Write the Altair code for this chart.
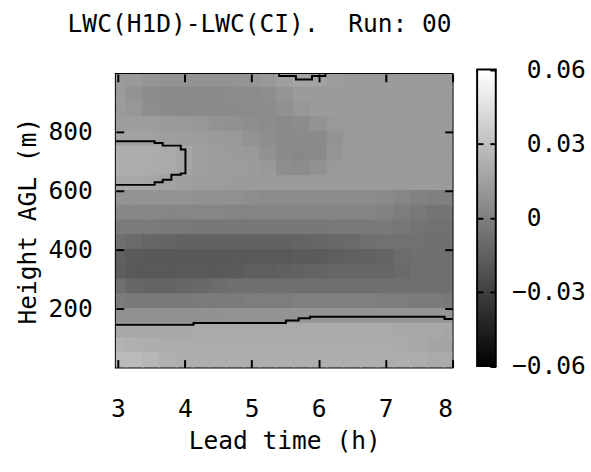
import altair as alt
import pandas as pd
import numpy as np

FONT = "DejaVu Sans Mono"

# Lead time (h) grid columns and height (m) grid rows (cell centres)
lead_hours = [3.0, 3.25, 3.5, 3.75, 4.0, 4.25, 4.5, 4.75, 5.0, 5.25, 5.5,
              5.75, 6.0, 6.25, 6.5, 6.75, 7.0, 7.25, 7.5, 7.75, 8.0]
heights = [975, 925, 875, 825, 775, 725, 675, 625, 575, 525,
           475, 425, 375, 325, 275, 225, 175, 125, 75, 25]

# LWC(H1D)-LWC(CI) in units of 0.001, one row per height (top to bottom)
lwc_diff_milli = [
    [13, 12, 10, 9, 9, 9, 9, 9, 10, 12, 15, 17, 16, 14, 13, 13, 13, 13, 13, 13, 13],
    [13, 9, 6, 5, 5, 5, 5, 6, 6, 7, 10, 13, 13, 13, 13, 13, 13, 13, 13, 13, 13],
    [13, 11, 7, 5, 5, 5, 5, 5, 6, 6, 8, 11, 13, 13, 13, 13, 13, 13, 13, 13, 13],
    [14, 14, 14, 13, 12, 11, 9, 8, 7, 6, 5, 6, 9, 12, 13, 13, 13, 13, 13, 13, 13],
    [16, 16, 16, 15, 14, 14, 13, 12, 9, 7, 5, 5, 5, 9, 12, 13, 13, 13, 13, 13, 13],
    [22, 22, 21, 20, 18, 15, 14, 13, 12, 8, 5, 4, 5, 10, 13, 13, 13, 13, 13, 13, 13],
    [22, 22, 21, 20, 18, 15, 14, 14, 13, 12, 7, 6, 8, 12, 13, 13, 13, 13, 13, 13, 13],
    [19, 19, 18, 16, 15, 14, 14, 13, 13, 13, 13, 13, 13, 13, 13, 13, 13, 13, 13, 13, 13],
    [9, 9, 9, 9, 9, 8, 8, 8, 7, 6, 6, 6, 6, 6, 6, 6, 5, 3, 1, 0, 0],
    [4, 4, 3, 3, 3, 3, 3, 2, 2, 2, 2, 2, 2, 2, 2, 2, 1, -1, -3, -5, -5],
    [-2, -2, -2, -3, -3, -4, -4, -4, -4, -4, -4, -4, -4, -3, -3, -3, -3, -4, -6, -7, -7],
    [-8, -10, -12, -13, -14, -14, -14, -14, -14, -14, -14, -13, -12, -11, -10, -8, -7, -7, -7, -8, -8],
    [-15, -17, -18, -18, -18, -18, -18, -18, -18, -18, -18, -17, -17, -16, -15, -14, -13, -9, -8, -8, -8],
    [-16, -18, -18, -18, -18, -18, -18, -17, -16, -16, -15, -14, -13, -12, -12, -12, -12, -10, -8, -8, -8],
    [-8, -12, -13, -13, -12, -11, -9, -8, -8, -8, -8, -8, -8, -8, -8, -8, -8, -8, -8, -8, -8],
    [-2, -3, -3, -3, -3, -2, -2, -2, -1, -1, -1, 0, 0, 0, 0, 0, -1, -1, -2, -2, -3],
    [8, 8, 8, 8, 8, 8, 8, 9, 9, 9, 9, 10, 10, 10, 10, 10, 10, 10, 10, 10, 10],
    [19, 19, 19, 19, 19, 20, 20, 20, 20, 20, 20, 20, 20, 20, 20, 20, 20, 19, 19, 19, 18],
    [24, 23, 22, 21, 21, 21, 21, 21, 21, 21, 21, 21, 21, 21, 21, 21, 21, 20, 19, 17, 17],
    [28, 28, 26, 23, 22, 22, 22, 22, 22, 22, 22, 22, 22, 22, 22, 22, 22, 22, 21, 20, 20],
]

# contour lines
contour_a_hours = [2.97, 3.55, 3.55, 3.67, 3.67, 3.94, 3.94, 4.01, 4.01, 3.94, 3.94, 3.80, 3.80, 3.67, 3.67, 3.55, 3.55, 2.97]
contour_a_heights = [767, 767, 761, 761, 752, 752, 739, 739, 658, 658, 653, 653, 636, 636, 628, 628, 619, 619]
contour_b_hours = [2.97, 4.13, 4.13, 5.51, 5.51, 5.70, 5.70, 5.87, 5.87, 7.88, 7.88, 8.0]
contour_b_heights = [145, 145, 151, 151, 159, 159, 167, 167, 172, 172, 164, 164]
contour_c_hours = [5.41, 5.41, 5.66, 5.66, 5.90, 5.90, 6.10, 6.10]
contour_c_heights = [995, 988, 988, 976, 976, 988, 988, 995]

x_ticks = [3, 4, 5, 6, 7, 8]
y_ticks = [200, 400, 600, 800]
cbar_ticks = [-0.06, -0.03, 0.0, 0.03, 0.06]
cbar_inner_ticks = [-0.03, 0.0, 0.03]

X_MIN, X_MAX = 2.97, 8.0
Y_MIN, Y_MAX = 0, 995
C_MIN, C_MAX = -0.06, 0.06

# ---- tables -------------------------------------------------------------
cells = []
for h, row in zip(heights, lwc_diff_milli):
    for t, v in zip(lead_hours, row):
        cells.append({"t": t, "h": h, "v": v / 1000.0})
df = pd.DataFrame(cells)

paths = []
for pid, (hs, zs) in enumerate([(contour_a_hours, contour_a_heights),
                                 (contour_b_hours, contour_b_heights),
                                 (contour_c_hours, contour_c_heights)]):
    for i, (t, z) in enumerate(zip(hs, zs)):
        paths.append({"t": t, "h": z, "pid": pid, "i": i})
dfp = pd.DataFrame(paths)

levels = np.linspace(C_MIN, C_MAX, 121)
dcb = pd.DataFrame({"lo": levels[:-1], "hi": levels[1:], "mid": (levels[:-1] + levels[1:]) / 2})
dcb_frame = pd.DataFrame({"lo": [C_MIN], "hi": [C_MAX], "x0": [0], "x1": [1]})

# ---- scales / axes ------------------------------------------------------
gray = alt.Scale(domain=[C_MIN, C_MAX], range=["#000000", "#ffffff"], interpolate="rgb")
XS = alt.Scale(domain=[X_MIN, X_MAX], nice=False, zero=False)
YS = alt.Scale(domain=[Y_MIN, Y_MAX], nice=False, zero=False)

TK = dict(ticks=True, tickSize=8, tickWidth=2, tickColor="black", offset=-8,
          domain=False, grid=False, zindex=1)

x_axis = alt.Axis(orient="bottom", values=x_ticks, format="d", title="Lead time (h)",
                  labelPadding=30, titlePadding=8, **TK)
y_axis = alt.Axis(orient="left", values=y_ticks, format="d", title="Height AGL (m)",
                  labelPadding=24, titlePadding=8, **TK)
x_axis_top = alt.Axis(orient="top", values=x_ticks, labels=False, title=None, **TK)
y_axis_right = alt.Axis(orient="right", values=y_ticks, labels=False, title=None, **TK)

heat = alt.Chart(df).transform_calculate(
    t0="datum.t - 0.135", t1="datum.t + 0.135",
    h0="datum.h - 27", h1="datum.h + 27",
).mark_rect(clip=True).encode(
    x=alt.X("t0:Q", scale=XS, axis=x_axis),
    x2="t1:Q",
    y=alt.Y("h0:Q", scale=YS, axis=y_axis),
    y2="h1:Q",
    color=alt.Color("v:Q", scale=gray, legend=None),
)

lines = alt.Chart(dfp).mark_line(color="black", strokeWidth=2).encode(
    x=alt.X("t:Q", scale=XS, axis=x_axis_top),
    y=alt.Y("h:Q", scale=YS, axis=y_axis_right),
    detail="pid:N",
    order="i:Q",
)

main = alt.layer(heat, lines).resolve_axis(x="independent", y="independent").properties(
    width=343, height=299,
    view=alt.ViewBackground(stroke="black", strokeWidth=2),
)

# ---- colour bar -----------------------------------------------------------
CBY = alt.Scale(domain=[C_MIN, C_MAX], range=[297.5, -4.5], nice=False, zero=False)
CBX = alt.Scale(domain=[0, 1], nice=False, zero=False)
label_expr = ("(datum.value < 0 ? '\u2212' : '') + "
              "(datum.value == 0 ? '0' : format(abs(datum.value), '.2f'))")
CTK = dict(ticks=True, tickSize=6, tickWidth=2, tickColor="black", offset=-6,
           domain=False, grid=False, zindex=1)
cb_axis = alt.Axis(orient="right", values=cbar_ticks, labelExpr=label_expr, title=None,
                   labelAlign="left",
                   labelPadding=alt.condition("datum.value < 0", alt.value(16), alt.value(31)),
                   **CTK)
cb_axis_left = alt.Axis(orient="left", values=cbar_inner_ticks, labels=False, title=None, **CTK)

cb_rect = alt.Chart(dcb).transform_calculate(
    x0="0", x1="1", lo2="datum.lo - 0.0003", hi2="datum.hi + 0.0003"
).mark_rect().encode(
    x=alt.X("x0:Q", scale=CBX, axis=None),
    x2="x1:Q",
    y=alt.Y("lo2:Q", scale=CBY, axis=cb_axis),
    y2="hi2:Q",
    color=alt.Color("mid:Q", scale=gray, legend=None),
)

cb_frame = alt.Chart(dcb_frame).mark_rect(fill=None, stroke="black", strokeWidth=2).encode(
    x=alt.X("x0:Q", scale=CBX, axis=None),
    x2="x1:Q",
    y=alt.Y("lo:Q", scale=CBY, axis=cb_axis_left),
    y2="hi:Q",
)

cbar = alt.layer(cb_rect, cb_frame).resolve_axis(y="independent").properties(
    width=19, height=299,
    view=alt.ViewBackground(stroke=None),
)

chart = alt.hconcat(main, cbar, spacing=19).properties(
    title=alt.TitleParams("LWC(H1D)-LWC(CI).\u00a0\u00a0Run:\u00a000", font=FONT, fontSize=25,
                          fontWeight="normal", anchor="start", dx=54, offset=21, color="black"),
    padding={"left": 14, "top": 8, "right": 5, "bottom": 5},
    background="white",
).configure_axis(
    labelFont=FONT, labelFontSize=25, labelColor="black",
    titleFont=FONT, titleFontSize=25, titleFontWeight="normal", titleColor="black",
).configure_view(strokeWidth=2)

chart.save("out.html", embed_options={"renderer": "svg", "actions": False})
